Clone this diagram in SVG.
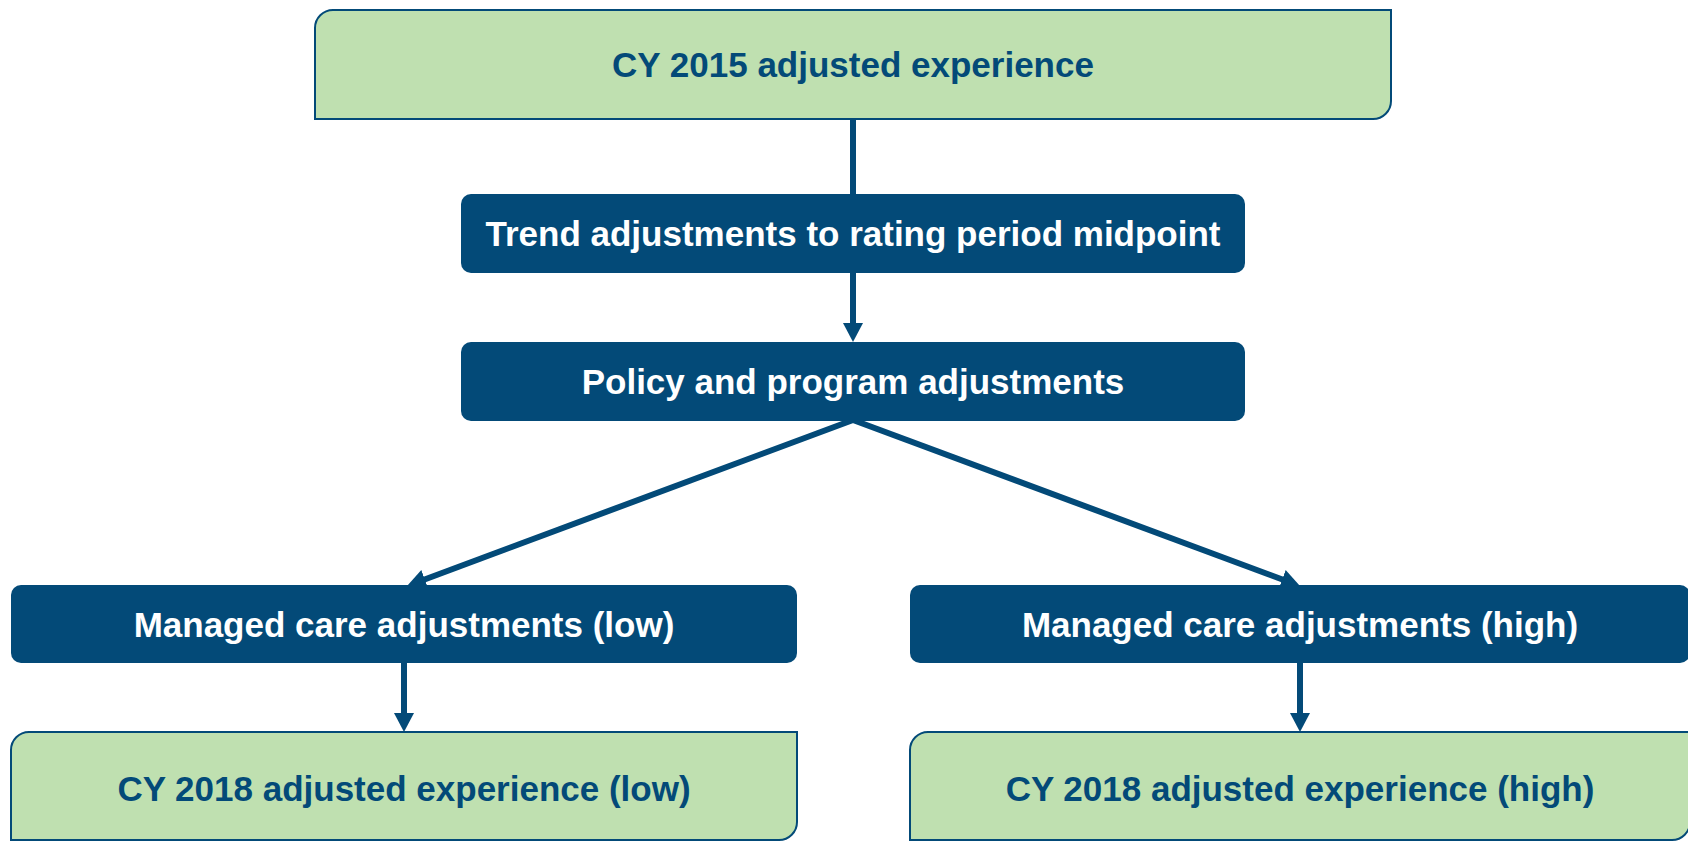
<svg xmlns="http://www.w3.org/2000/svg" width="1688" height="841" viewBox="0 0 1688 841">
<style>
.green{fill:#bfe0b0;stroke:#034a78;stroke-width:2}
.blue{fill:#034a78}
.tg{font-family:"Liberation Sans",Arial,Helvetica,sans-serif;font-weight:bold;font-size:35px;fill:#034a78;text-anchor:middle}
.tw{font-family:"Liberation Sans",Arial,Helvetica,sans-serif;font-weight:bold;font-size:35px;fill:#ffffff;text-anchor:middle}
.conn{stroke:#034a78;stroke-width:6;fill:none}
</style>
<defs>
<marker id="ah" viewBox="0 0 19 20" refX="11" refY="10" markerWidth="19" markerHeight="20" markerUnits="userSpaceOnUse" orient="auto">
<path d="M0,0 L19,10 L0,20 Z" fill="#034a78"/>
</marker>
</defs>
<rect width="1688" height="841" fill="#ffffff"/>
<g id="connectors">
<line class="conn" x1="853" y1="118" x2="853" y2="196"/>
<line class="conn" x1="853" y1="272" x2="853" y2="334" marker-end="url(#ah)"/>
<line class="conn" x1="853" y1="420" x2="414.5" y2="583.2" marker-end="url(#ah)"/>
<line class="conn" x1="853" y1="420" x2="1292.5" y2="583.2" marker-end="url(#ah)"/>
<line class="conn" x1="404" y1="662" x2="404" y2="724" marker-end="url(#ah)"/>
<line class="conn" x1="1300" y1="662" x2="1300" y2="724" marker-end="url(#ah)"/>
</g>
<g id="cy2015">
<path class="green" d="M333 10 H1391 V101 A18 18 0 0 1 1373 119 H315 V28 A18 18 0 0 1 333 10 Z"/>
<text class="tg" x="853" y="77">CY 2015 adjusted experience</text>
</g>
<g id="trend">
<rect class="blue" x="461" y="194" width="784" height="79" rx="10"/>
<text class="tw" x="853" y="246">Trend adjustments to rating period midpoint</text>
</g>
<g id="policy">
<rect class="blue" x="461" y="342" width="784" height="79" rx="10"/>
<text class="tw" x="853" y="394">Policy and program adjustments</text>
</g>
<g id="mc-low">
<rect class="blue" x="11" y="585" width="786" height="78" rx="10"/>
<text class="tw" x="404" y="637">Managed care adjustments (low)</text>
</g>
<g id="mc-high">
<rect class="blue" x="910" y="585" width="780" height="78" rx="10"/>
<text class="tw" x="1300" y="637">Managed care adjustments (high)</text>
</g>
<g id="cy2018-low">
<path class="green" d="M29 732 H797 V822 A18 18 0 0 1 779 840 H11 V750 A18 18 0 0 1 29 732 Z"/>
<text class="tg" x="404" y="801">CY 2018 adjusted experience (low)</text>
</g>
<g id="cy2018-high">
<path class="green" d="M928 732 H1690 V822 A18 18 0 0 1 1672 840 H910 V750 A18 18 0 0 1 928 732 Z"/>
<text class="tg" x="1300" y="801">CY 2018 adjusted experience (high)</text>
</g>
</svg>
